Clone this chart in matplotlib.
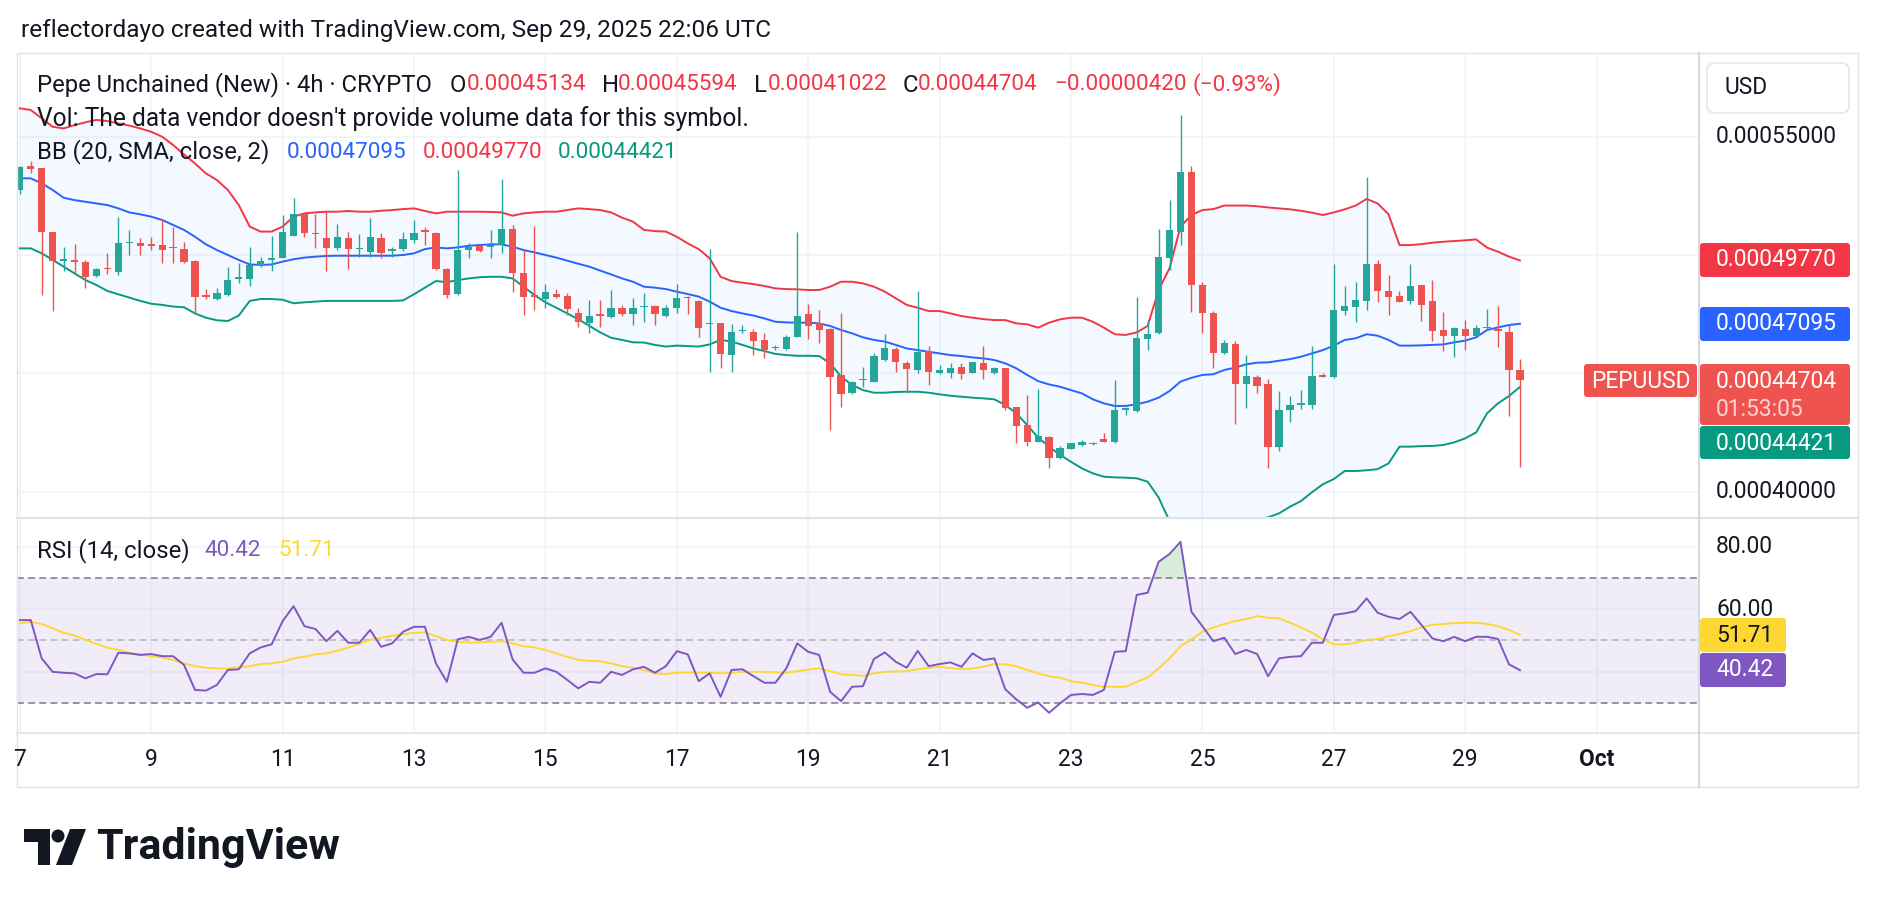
"""Recreates the PEPUUSD 4h TradingView snapshot (candles + BB + RSI)."""
import matplotlib
matplotlib.use("Agg")
import matplotlib.pyplot as plt
import matplotlib.dates as mdates
import matplotlib.transforms as mtrans
from matplotlib.patches import FancyBboxPatch, Rectangle, Circle, Polygon
import numpy as np

plt.rcParams["font.family"] = ["Roboto", "DejaVu Sans"]

# ---------------- data (prices in units of 1e-5 USD) ----------------
first_bar = "2025-09-07T00:00"
bar_hours = 4

open_ = [52.75, 53.75, 53.66, 50.96, 49.76, 49.80, 49.69, 49.12, 49.45, 49.30,
         50.49, 50.49, 50.45, 50.42, 50.33, 50.25, 49.75, 48.31, 48.13, 48.31,
         48.99, 48.97, 49.58, 49.79, 49.89, 50.82, 51.73, 50.94, 50.73, 50.28,
         50.73, 50.25, 50.14, 50.73, 50.17, 50.25, 50.63, 51.04, 50.94, 49.41,
         48.34, 50.21, 50.39, 50.35, 50.42, 51.08, 49.22, 48.31, 48.14, 48.35,
         48.27, 47.56, 47.11, 47.49, 47.39, 47.75, 47.51, 47.79, 47.84, 47.44,
         47.75, 48.24, 48.06, 47.08, 47.11, 45.77, 46.77, 46.76, 46.41, 46.05,
         46.01, 46.55, 47.49, 47.11, 46.87, 44.93, 44.18, 44.72, 44.65, 45.56,
         46.01, 45.42, 45.14, 45.96, 45.00, 45.03, 45.25, 45.03, 45.42, 45.00,
         45.21, 43.56, 42.81, 42.11, 42.29, 41.41, 41.80, 41.97, 42.01, 42.22,
         42.08, 43.45, 43.42, 46.44, 46.69, 49.89, 50.99, 53.49, 48.73, 47.53,
         45.84, 46.24, 44.53, 44.83, 44.55, 41.90, 43.45, 43.67, 43.66, 44.93,
         44.86, 47.65, 47.82, 48.07, 49.62, 48.48, 48.27, 48.07, 48.73, 48.06,
         46.83, 46.59, 46.86, 46.59, 46.91, 46.86, 46.73, 45.134]
high = [53.76, 53.97, 53.69, 50.99, 50.35, 50.45, 49.79, 49.46, 50.07, 51.59,
        51.06, 50.70, 50.75, 51.52, 51.20, 50.56, 49.78, 48.56, 48.59, 49.48,
        49.65, 50.32, 49.90, 50.82, 51.69, 52.39, 51.78, 51.73, 51.80, 51.31,
        50.98, 50.87, 51.55, 50.92, 50.35, 50.99, 51.48, 51.20, 50.99, 49.46,
        53.59, 50.49, 50.42, 51.06, 53.21, 51.27, 50.21, 51.23, 48.76, 48.55,
        48.38, 47.75, 48.10, 48.10, 48.52, 47.89, 48.20, 48.38, 47.89, 47.89,
        48.76, 48.27, 48.10, 50.25, 47.14, 47.07, 47.04, 46.86, 46.69, 46.20,
        46.62, 50.99, 47.91, 47.67, 46.90, 47.53, 44.68, 45.25, 45.84, 46.65,
        46.10, 45.53, 48.48, 46.15, 45.35, 45.42, 45.45, 45.49, 46.15, 45.28,
        45.24, 43.59, 44.08, 44.32, 42.35, 41.94, 42.07, 42.18, 42.11, 42.49,
        44.72, 43.59, 48.24, 47.25, 51.10, 52.32, 55.92, 53.76, 48.85, 47.63,
        46.41, 46.36, 45.77, 44.93, 44.76, 44.25, 44.04, 44.29, 46.15, 45.03,
        49.61, 48.69, 48.85, 53.31, 49.79, 49.15, 48.48, 49.62, 48.75, 48.94,
        47.60, 46.97, 47.25, 47.04, 47.72, 47.84, 47.04, 45.594]
low = [52.56, 53.45, 48.31, 47.65, 49.34, 49.23, 48.59, 49.08, 49.20, 49.15,
       50.00, 50.00, 50.21, 49.65, 49.65, 49.65, 47.50, 48.14, 48.11, 48.27,
       48.80, 48.70, 49.51, 49.34, 49.86, 50.79, 50.75, 50.31, 49.34, 50.21,
       49.39, 49.90, 49.93, 49.89, 49.90, 50.17, 50.49, 50.42, 49.36, 48.17,
       48.31, 49.89, 50.11, 49.86, 50.07, 48.45, 47.46, 47.67, 47.75, 48.17,
       47.46, 46.97, 46.72, 46.94, 47.32, 47.42, 47.04, 47.18, 47.04, 47.39,
       47.56, 47.51, 46.52, 45.04, 45.21, 45.04, 46.72, 45.77, 45.63, 45.98,
       45.98, 46.52, 46.45, 46.30, 42.60, 43.59, 44.13, 44.43, 44.62, 45.53,
       45.04, 44.18, 45.00, 44.50, 44.97, 44.82, 44.76, 45.00, 44.76, 44.97,
       43.45, 42.04, 41.94, 42.08, 41.01, 41.38, 41.78, 41.94, 41.99, 42.10,
       42.05, 43.24, 43.35, 45.98, 46.66, 49.36, 50.42, 47.60, 46.72, 45.21,
       45.81, 42.84, 43.55, 44.18, 41.01, 41.73, 42.96, 43.48, 43.48, 44.84,
       44.82, 47.46, 47.18, 47.67, 48.03, 47.46, 48.01, 47.93, 47.21, 46.38,
       45.94, 45.70, 45.98, 46.57, 46.83, 46.13, 43.21, 41.022]
close = [53.73, 53.62, 50.96, 49.76, 49.80, 49.70, 49.08, 49.41, 49.39, 50.49,
         50.56, 50.39, 50.39, 50.21, 50.28, 49.72, 48.24, 48.24, 48.38, 48.94,
         49.04, 49.58, 49.76, 49.89, 50.96, 51.73, 50.92, 50.89, 50.28, 50.75,
         50.24, 50.31, 50.78, 50.07, 50.25, 50.66, 50.92, 50.99, 49.39, 48.31,
         50.21, 50.35, 50.18, 50.42, 51.08, 49.22, 48.24, 48.24, 48.42, 48.21,
         47.70, 47.18, 47.42, 47.44, 47.75, 47.51, 47.75, 47.84, 47.49, 47.77,
         48.20, 48.18, 46.90, 47.13, 45.80, 46.73, 46.83, 46.38, 45.98, 46.13,
         46.52, 47.42, 47.01, 46.83, 44.86, 44.13, 44.65, 44.77, 45.73, 46.05,
         45.49, 45.17, 45.91, 45.04, 45.14, 45.21, 44.96, 45.46, 45.14, 45.24,
         43.52, 42.79, 42.11, 42.35, 41.43, 41.83, 42.04, 42.08, 42.05, 42.11,
         43.45, 43.52, 46.48, 46.65, 49.90, 51.06, 53.49, 48.73, 47.56, 45.87,
         46.27, 44.53, 44.89, 44.48, 41.90, 43.45, 43.66, 43.73, 44.89, 44.86,
         47.67, 47.84, 48.10, 49.62, 48.49, 48.24, 48.03, 48.69, 47.89, 46.80,
         46.59, 46.93, 46.59, 46.93, 46.96, 46.80, 45.124, 44.704]

bb_upper = [56.20, 56.13, 55.78, 55.42, 55.35, 55.49, 55.61, 55.71, 55.66, 55.56,
            55.47, 55.35, 55.21, 55.00, 54.65, 54.25, 53.87, 53.45, 53.17, 52.75,
            52.11, 51.20, 50.99, 50.99, 51.20, 51.62, 51.76, 51.80, 51.83, 51.83,
            51.86, 51.83, 51.83, 51.87, 51.90, 51.94, 51.97, 51.86, 51.76, 51.83,
            51.83, 51.83, 51.83, 51.82, 51.80, 51.66, 51.76, 51.80, 51.83, 51.83,
            51.90, 51.97, 51.94, 51.90, 51.80, 51.58, 51.41, 51.06, 51.01, 50.99,
            50.77, 50.49, 50.25, 49.86, 49.08, 48.90, 48.83, 48.77, 48.69, 48.59,
            48.56, 48.55, 48.52, 48.52, 48.66, 48.87, 48.87, 48.80, 48.66, 48.45,
            48.17, 47.89, 47.77, 47.63, 47.63, 47.53, 47.42, 47.35, 47.29, 47.25,
            47.25, 47.11, 47.07, 46.93, 47.14, 47.28, 47.35, 47.35, 47.18, 46.93,
            46.65, 46.62, 46.73, 47.00, 48.52, 49.44, 51.20, 51.69, 51.90, 51.94,
            52.09, 52.09, 52.09, 52.06, 52.01, 51.97, 51.93, 51.87, 51.79, 51.69,
            51.80, 51.93, 52.09, 52.37, 52.18, 51.72, 50.42, 50.42, 50.46, 50.52,
            50.56, 50.59, 50.62, 50.66, 50.31, 50.14, 49.93, 49.770]
bb_basis = [53.24, 53.24, 53.03, 52.75, 52.42, 52.32, 52.25, 52.18, 52.11, 51.97,
            51.80, 51.72, 51.62, 51.48, 51.27, 51.06, 50.77, 50.45, 50.21, 50.00,
            49.79, 49.60, 49.58, 49.60, 49.72, 49.82, 49.89, 49.93, 49.96, 49.97,
            49.97, 49.97, 49.97, 49.97, 49.97, 50.00, 50.07, 50.25, 50.32, 50.28,
            50.32, 50.39, 50.42, 50.45, 50.45, 50.35, 50.21, 50.11, 50.00, 49.89,
            49.76, 49.63, 49.51, 49.34, 49.18, 49.01, 48.87, 48.66, 48.62, 48.56,
            48.45, 48.35, 48.24, 48.03, 47.77, 47.63, 47.53, 47.44, 47.32, 47.18,
            47.15, 47.14, 47.14, 47.11, 47.00, 46.83, 46.69, 46.52, 46.41, 46.34,
            46.20, 46.05, 45.98, 45.91, 45.84, 45.77, 45.73, 45.67, 45.63, 45.56,
            45.42, 45.21, 44.93, 44.67, 44.53, 44.43, 44.29, 44.15, 43.90, 43.73,
            43.62, 43.62, 43.69, 43.80, 43.97, 44.25, 44.65, 44.81, 44.93, 44.96,
            45.14, 45.24, 45.38, 45.45, 45.46, 45.53, 45.60, 45.70, 45.84, 45.98,
            46.17, 46.41, 46.48, 46.65, 46.59, 46.41, 46.17, 46.17, 46.18, 46.20,
            46.22, 46.31, 46.38, 46.52, 46.83, 46.94, 47.04, 47.095]
bb_lower = [50.28, 50.28, 50.07, 49.79, 49.51, 49.22, 48.94, 48.73, 48.48, 48.34,
            48.20, 48.06, 47.94, 47.89, 47.82, 47.79, 47.53, 47.35, 47.24, 47.21,
            47.44, 48.06, 48.14, 48.14, 48.11, 47.96, 48.00, 48.03, 48.06, 48.06,
            48.06, 48.06, 48.06, 48.06, 48.06, 48.08, 48.34, 48.62, 48.90, 48.85,
            48.94, 49.01, 49.06, 49.08, 49.08, 49.01, 48.66, 48.31, 48.00, 47.77,
            47.53, 47.28, 47.01, 46.73, 46.50, 46.41, 46.31, 46.30, 46.20, 46.13,
            46.17, 46.15, 46.13, 46.22, 46.41, 46.34, 46.20, 46.05, 45.94, 45.82,
            45.77, 45.74, 45.74, 45.73, 45.42, 44.86, 44.51, 44.29, 44.18, 44.18,
            44.21, 44.22, 44.22, 44.18, 44.11, 44.05, 44.01, 43.97, 43.94, 43.90,
            43.66, 43.31, 42.81, 42.28, 41.90, 41.55, 41.26, 40.98, 40.77, 40.63,
            40.60, 40.59, 40.56, 40.42, 39.75, 38.75, 38.10, 37.93, 37.96, 37.98,
            38.19, 38.39, 38.67, 38.84, 38.91, 39.08, 39.36, 39.60, 39.97, 40.31,
            40.53, 40.87, 40.87, 40.90, 40.95, 41.19, 41.90, 41.90, 41.92, 41.93,
            41.97, 42.08, 42.25, 42.50, 43.31, 43.73, 44.04, 44.421]

rsi = [56.45, 56.45, 44.2, 39.9, 39.6, 39.4, 37.8, 39.2, 39.1, 46.0,
       45.8, 45.3, 45.6, 44.9, 44.9, 42.1, 34.1, 33.9, 35.7, 40.5,
       40.7, 45.8, 47.7, 48.7, 56.1, 60.9, 54.5, 53.6, 49.7, 53.0,
       49.2, 49.2, 53.3, 47.9, 49.0, 52.7, 54.3, 54.3, 42.6, 36.7,
       50.3, 51.1, 50.1, 51.1, 55.6, 43.9, 39.6, 39.6, 41.0, 39.9,
       37.3, 34.6, 36.7, 36.4, 39.9, 38.9, 40.7, 41.5, 39.6, 41.7,
       46.5, 45.5, 36.9, 39.4, 31.9, 40.5, 40.7, 38.5, 36.4, 36.4,
       41.0, 49.0, 46.3, 45.3, 33.5, 30.5, 35.1, 35.3, 44.0, 46.1,
       43.1, 41.2, 46.6, 41.7, 42.4, 42.9, 41.5, 45.8, 43.7, 44.2,
       34.3, 31.1, 28.4, 30.1, 26.8, 29.8, 32.5, 32.8, 32.5, 34.1,
       46.3, 46.5, 64.5, 65.2, 75.1, 77.6, 81.5, 59.1, 54.5, 49.7,
       50.8, 45.6, 46.9, 45.6, 38.5, 44.2, 44.7, 44.9, 49.2, 49.2,
       58.1, 58.6, 59.3, 63.4, 58.8, 57.5, 56.8, 59.1, 54.9, 50.6,
       49.7, 51.1, 49.7, 51.1, 51.1, 50.4, 42.3, 40.42]
rsi_ma = [55.4, 55.9, 55.2, 53.8, 52.4, 51.5, 50.1, 48.8, 47.6, 46.9,
          46.0, 45.5, 44.9, 44.5, 43.7, 42.6, 41.7, 41.2, 41.0, 41.0,
          41.3, 41.7, 42.4, 42.6, 43.1, 44.2, 44.7, 45.5, 45.8, 46.6,
          47.7, 48.8, 50.1, 50.8, 51.4, 51.9, 52.4, 52.5, 51.3, 50.1,
          49.5, 49.3, 49.3, 49.5, 49.7, 49.0, 48.1, 47.7, 46.9, 45.8,
          44.7, 43.7, 43.4, 43.3, 42.6, 41.7, 41.2, 40.5, 39.4, 39.2,
          39.6, 39.7, 39.6, 39.6, 39.4, 39.6, 39.9, 39.9, 39.9, 39.7,
          39.6, 40.1, 40.6, 41.0, 40.1, 39.1, 38.9, 38.6, 39.4, 39.9,
          40.0, 40.1, 40.7, 41.2, 41.5, 41.1, 40.7, 41.0, 41.5, 42.4,
          42.3, 41.7, 40.5, 39.4, 38.5, 38.0, 36.9, 36.4, 35.7, 35.1,
          35.1, 35.1, 36.7, 38.1, 41.0, 44.2, 48.1, 50.3, 52.7, 54.1,
          55.2, 56.1, 56.8, 57.7, 57.2, 57.0, 55.6, 54.1, 52.4, 50.3,
          48.7, 48.7, 49.2, 50.1, 50.4, 51.3, 52.0, 52.9, 54.1, 54.9,
          55.2, 55.5, 55.6, 55.6, 55.2, 54.5, 53.3, 51.71]

tick_dates = ["2025-09-07", "2025-09-09", "2025-09-11", "2025-09-13", "2025-09-15",
              "2025-09-17", "2025-09-19", "2025-09-21", "2025-09-23", "2025-09-25",
              "2025-09-27", "2025-09-29", "2025-10-01"]
tick_labels = ["7", "9", "11", "13", "15", "17", "19", "21", "23", "25", "27", "29", "Oct"]
price_ticks = [55, 40]
price_grid = [40, 45, 50, 55]
rsi_ticks = [80, 60]
rsi_grid = [40, 60, 80]

# ---------------- colours ----------------
TEAL, RED = "#26a69a", "#ef5350"
BB_UP, BB_MID, BB_LO = "#f23645", "#2962ff", "#089981"
PURPLE, YELLOW = "#7e57c2", "#fdd835"
DARK, GRID, FRAME = "#131722", "#f0f3fa", "#e0e3eb"

# ---------------- layout (pixels) ----------------
W, H = 1878, 908
L, PX, RB = 17, 1698.7, 1858      # chart left, price-axis start, right border
T, S, B, TB = 53, 518, 733, 787   # top, pane split, rsi bottom, time-axis bottom
BAR_PX, X0_PX = 10.95, 19.8

fig = plt.figure(figsize=(W / 100, H / 100), dpi=100)
fig.patch.set_facecolor("white")

o = np.array(open_); h = np.array(high); lo = np.array(low); c = np.array(close)
t = mdates.date2num(np.datetime64(first_bar) + np.arange(len(c)) * np.timedelta64(bar_hours, "h"))
tick_nums = mdates.date2num(np.array(tick_dates, dtype="datetime64[D]"))
day_px = BAR_PX * 24 / bar_hours
xl = t[0] + (L - X0_PX) / day_px
xr = t[0] + (PX - X0_PX) / day_px

main_ylim = (55 - (S - 136.7) / 23.66, 55 + (136.7 - T) / 23.66)
rsi_ylim = (30 - (B - 702.75) / 3.125, 70 + (577.75 - S) / 3.125)


def pane(y0, y1, ylim, hgrid):
    ax = fig.add_axes([L / W, 1 - y1 / H, (PX - L) / W, (y1 - y0) / H])
    ax.set_xlim(xl, xr)
    ax.set_ylim(*ylim)
    ax.set_xticks([])
    ax.set_yticks([])
    for sp in ax.spines.values():
        sp.set_visible(False)
    for d in tick_nums:
        ax.axvline(d, color=GRID, lw=1.1, zorder=0)
    for v in hgrid:
        ax.axhline(v, color=GRID, lw=1.1, zorder=0)
    return ax


# ---- main pane ----
ax = pane(T, S, main_ylim, price_grid)
ax.fill_between(t, bb_lower, bb_upper, color="#2196f3", alpha=0.05, lw=0, zorder=1)
ax.plot(t, bb_upper, color=BB_UP, lw=1.4, zorder=2)
ax.plot(t, bb_basis, color=BB_MID, lw=1.4, zorder=2)
ax.plot(t, bb_lower, color=BB_LO, lw=1.4, zorder=2)
col = np.where(c >= o, TEAL, RED)
ax.vlines(t, lo, h, colors=col, lw=1.0, zorder=4)
ax.bar(t, np.maximum(np.abs(c - o), 0.06), bottom=np.minimum(o, c),
       width=7.3 / day_px, color=col, lw=0, zorder=5)

# ---- RSI pane ----
ar = pane(S, B, rsi_ylim, rsi_grid)
r = np.array(rsi)
ar.axhspan(30, 70, color=PURPLE, alpha=0.1, lw=0, zorder=0.5)
ar.axhline(70, color="#787b86", lw=1.1, ls=(0, (4.5, 2.8)), zorder=1)
ar.axhline(30, color="#787b86", lw=1.1, ls=(0, (4.5, 2.8)), zorder=1)
ar.axhline(50, color="#b2b5be", lw=1.1, ls=(0, (4.5, 2.8)), zorder=1)
ar.fill_between(t, 70, r, where=r >= 70, interpolate=True, color="#4caf50", alpha=0.22, lw=0)
ar.plot(t, rsi_ma, color=YELLOW, lw=1.4, zorder=3)
ar.plot(t, r, color=PURPLE, lw=1.4, zorder=4)

# ---- overlay in pixel coords ----
ov = fig.add_axes([0, 0, 1, 1], zorder=10)
ov.set_xlim(0, W)
ov.set_ylim(H, 0)
ov.axis("off")

ov.add_patch(Rectangle((L, T), RB - L, TB - T, fill=False, ec=FRAME, lw=1.0))
ov.plot([L, RB], [S, S], color=FRAME, lw=1.6)
ov.plot([L, RB], [B, B], color=FRAME, lw=1.2)
ov.plot([PX, PX], [T, TB], color="#d1d4dc", lw=1.3)

fig.canvas.draw()
REND = fig.canvas.get_renderer()


def width_of(s, size, **kw):
    tx = ov.text(0, 0, s, fontsize=size, **kw)
    w = tx.get_window_extent(REND).width
    tx.remove()
    return w


def fit(s, target, **kw):
    return 12 * target / width_of(s, 12, **kw)


def place(y, pieces):
    # pieces: (left x in px, text, colour, font size)
    for x, s, colr, size in pieces:
        ov.text(x, y, s, color=colr, fontsize=size, va="center", ha="left")


def p8(v):
    return f"{v * 1e-5:.8f}"


# watermark line
ts = fit("reflectordayo created with TradingView.com, Sep 29, 2025 22:06 UTC", 748)
ov.text(21, 30, "reflectordayo created with TradingView.com, Sep 29, 2025 22:06 UTC",
        fontsize=ts, color=DARK, va="center", ha="left")

# legends: words and numbers sized separately to match the reference widths
fs = fit("Vol: The data vendor doesn't provide volume data for this symbol.", 710)
ws = fit("Pepe Unchained (New) · 4h · CRYPTO", 395)
ns = fit("0.00045134", 119)
chg = c[-1] - c[-2]
place(85, [(37, "Pepe Unchained (New) · 4h · CRYPTO", DARK, ws),
           (449.6, "O", DARK, ws), (466.4, p8(o[-1]), BB_UP, ns),
           (602.5, "H", DARK, ws), (617.5, p8(h[-1]), BB_UP, ns),
           (754.2, "L", DARK, ws), (767.4, p8(lo[-1]), BB_UP, ns),
           (902.3, "C", DARK, ws), (917.3, p8(c[-1]), BB_UP, ns),
           (1054, p8(chg).replace("-", "\u2212"), BB_UP, ns),
           (1192, f"({chg / c[-2] * 100:.2f}%)".replace("-", "\u2212"), BB_UP, ns)])
place(119, [(37, "Vol: The data vendor doesn't provide volume data for this symbol.", DARK, fs)])
place(152, [(37, "BB (20, SMA, close, 2)", DARK, ws),
            (286.6, p8(bb_basis[-1]), BB_MID, ns), (422.7, p8(bb_upper[-1]), BB_UP, ns),
            (557.6, p8(bb_lower[-1]), BB_LO, ns)])
place(551, [(37, "RSI (14, close)", DARK, ws), (204, f"{rsi[-1]:.2f}", PURPLE, ns),
            (278, f"{rsi_ma[-1]:.2f}", YELLOW, ns)])

# price axis
afs = fit("0.00055000", 121)
ov.add_patch(FancyBboxPatch((1707, 63), 142, 50, boxstyle="round,pad=0,rounding_size=8",
                            fc="white", ec=FRAME, lw=1.0))
ov.text(1724, 88, "USD", fontsize=afs, color=DARK, va="center", ha="left")
ymain = mtrans.blended_transform_factory(ov.transData, ax.transData)
for v in price_ticks:
    ov.text(1716, v, p8(v), transform=ymain, fontsize=afs, color=DARK, va="center", ha="left")
yrsi = mtrans.blended_transform_factory(ov.transData, ar.transData)
for v in rsi_ticks:
    ov.text(1716, v, f"{v:.2f}", transform=yrsi, fontsize=afs, color=DARK, va="center", ha="left")


def tag(x0, y0, w, hgt, fc, lines, tc="white"):
    ov.add_patch(FancyBboxPatch((x0, y0), w, hgt, boxstyle="round,pad=0,rounding_size=3",
                                fc=fc, ec="none"))
    for (s, yy, cc) in lines:
        ov.text(x0 + 16, yy, s, fontsize=afs, color=cc if cc else tc, va="center", ha="left")


tag(1700, 243, 150, 34, BB_UP, [(p8(bb_upper[-1]), 260, None)])
tag(1700, 307, 150, 34, BB_MID, [(p8(bb_basis[-1]), 324, None)])
tag(1700, 364, 150, 61, RED, [(p8(c[-1]), 381.5, None), ("01:53:05", 409, "#fbd3d2")])
tag(1700, 426, 150, 33, BB_LO, [(p8(bb_lower[-1]), 443, None)])
ov.add_patch(FancyBboxPatch((1584, 364), 113, 33, boxstyle="round,pad=0,rounding_size=3",
                            fc=RED, ec="none"))
ov.text(1641, 381, "PEPUUSD", fontsize=afs, color="white", va="center", ha="center")
tag(1700, 618, 86, 34, YELLOW, [(f"{rsi_ma[-1]:.2f}", 635, None)], tc=DARK)
tag(1700, 653, 86, 34, PURPLE, [(f"{rsi[-1]:.2f}", 670, None)])

# time axis
xdate = mtrans.blended_transform_factory(ar.transData, ov.transData)
clip = Rectangle((L, B), PX - L, TB - B, transform=ov.transData)
for d, lab in zip(tick_nums, tick_labels):
    tx = ov.text(d, 760, lab, transform=xdate, fontsize=afs, color=DARK, va="center", ha="center",
                 fontweight="bold" if not lab.isdigit() else "normal")
    tx.set_clip_path(clip)

# TradingView logo
ov.add_patch(Polygon([(24, 829), (50, 829), (50, 865), (38, 865), (38, 842), (24, 842)],
                     closed=True, fc=DARK, ec="none"))
ov.add_patch(Circle((58, 836), 6.5, fc=DARK, ec="none"))
ov.add_patch(Polygon([(70, 829), (86, 829), (72, 865), (56, 865)], closed=True, fc=DARK, ec="none"))
lf = fit("TradingView", 243, fontweight="bold")
ov.text(96, 847, "TradingView", fontsize=lf, fontweight="bold", color=DARK, va="center", ha="left")

fig.savefig("out.png", dpi=100, facecolor="white")
